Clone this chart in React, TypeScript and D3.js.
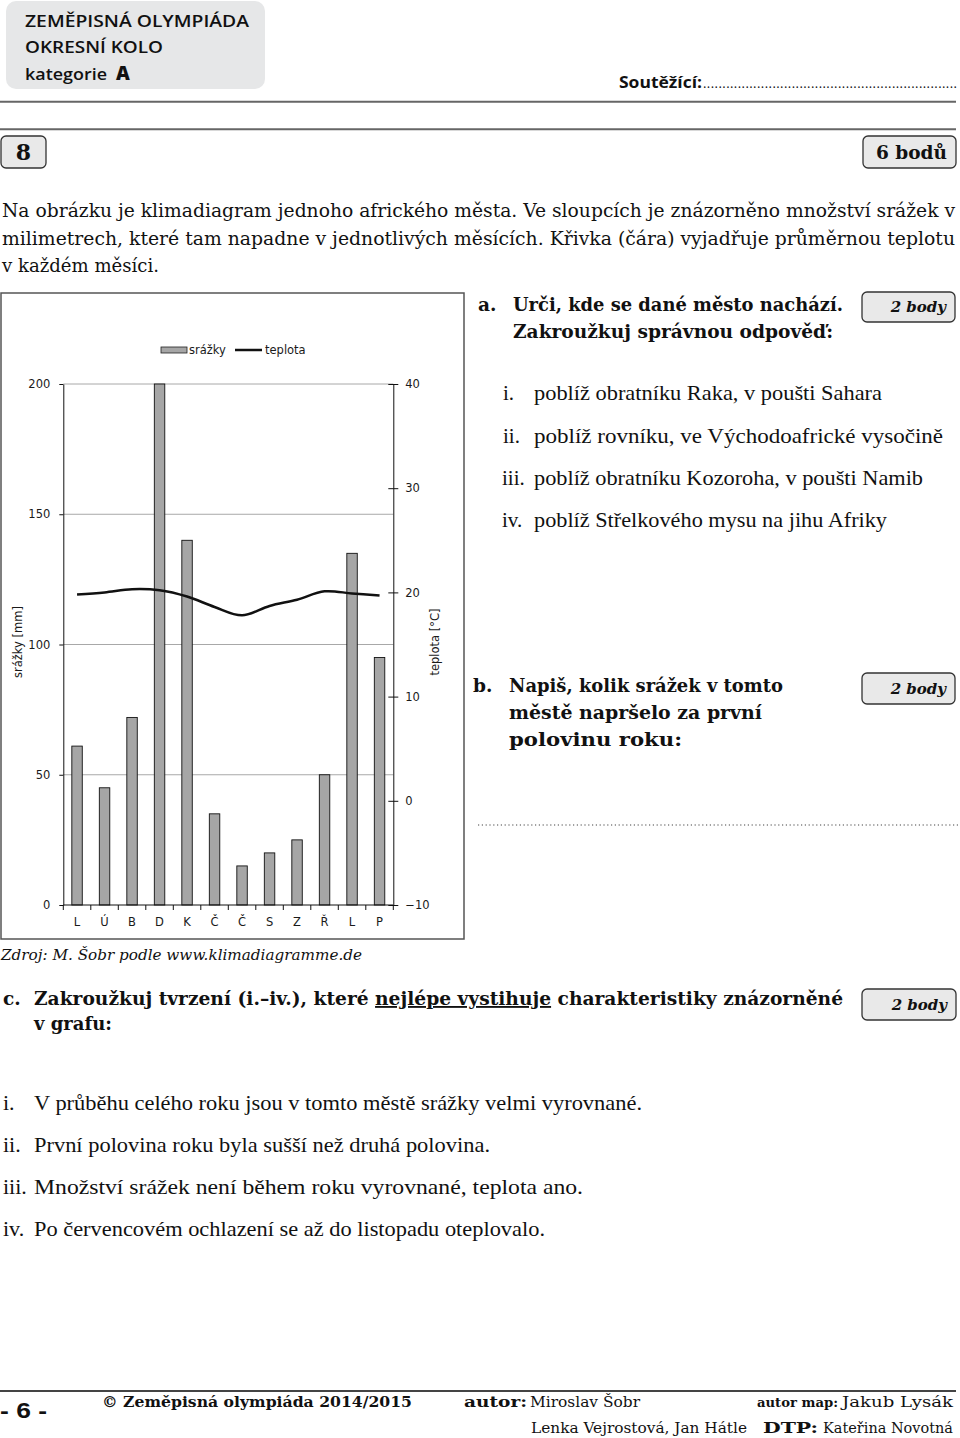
import { useEffect, useRef } from 'react'
import * as d3 from 'd3'

// klimadiagram – hodnoty
const months = ['L', 'Ú', 'B', 'D', 'K', 'Č', 'Č', 'S', 'Z', 'Ř', 'L', 'P']
const srazky = [61, 45, 72, 200, 140, 35, 15, 20, 25, 50, 135, 95]
const teplota = [19.8, 20.0, 20.3, 20.2, 19.6, 18.6, 17.8, 18.7, 19.3, 20.1, 19.9, 19.7]
const srazkyTicks = [0, 50, 100, 150, 200]
const teplotaTicks = [-10, 0, 10, 20, 30, 40]

const PLOT = { left: 63.3, right: 393.3, top: 384, bottom: 905 }
const TIMES = "'Liberation Serif', 'Times New Roman', serif"
const CAMBRIA = "'DejaVu Serif', Georgia, serif"
const SANS = "'DejaVu Sans', Verdana, sans-serif"
const HEAD = "'Open Sans', Lato, sans-serif"
const BAR_FILL = '#a6a6a6'
const FIT = 'spacingAndGlyphs'

function Klimadiagram() {
  const ref = useRef<SVGGElement>(null)

  useEffect(() => {
    const root = ref.current
    if (!root) return
    const g = d3.select(root)
    g.selectAll('*').remove()

    const x = d3.scaleBand<number>()
      .domain(d3.range(months.length))
      .range([PLOT.left, PLOT.right])
      .padding(0)
    const yP = d3.scaleLinear().domain([0, 200]).range([PLOT.bottom, PLOT.top])
    const yT = d3.scaleLinear().domain([-10, 40]).range([PLOT.bottom, PLOT.top])
    const bw = x.bandwidth() * 0.38
    const cx = (i: number) => (x(i) ?? 0) + x.bandwidth() / 2

    // rámeček
    g.append('rect')
      .attr('x', 1).attr('y', 293).attr('width', 463).attr('height', 646)
      .attr('fill', 'none').attr('stroke', '#555').attr('stroke-width', 1.5)

    // mřížka
    g.append('g').selectAll('line')
      .data(srazkyTicks.filter(d => d > 0))
      .join('line')
      .attr('x1', PLOT.left).attr('x2', PLOT.right)
      .attr('y1', d => yP(d)).attr('y2', d => yP(d))
      .attr('stroke', '#a8a8a8').attr('stroke-width', 1)

    // sloupce srážek
    g.append('g').selectAll('rect')
      .data(srazky)
      .join('rect')
      .attr('x', (_, i) => cx(i) - bw / 2)
      .attr('y', d => yP(d))
      .attr('width', bw)
      .attr('height', d => yP(0) - yP(d))
      .attr('fill', BAR_FILL).attr('stroke', '#111').attr('stroke-width', 0.9)

    const styleAxis = (sel: d3.Selection<SVGGElement, unknown, null, undefined>) => {
      sel.select('.domain').attr('stroke', '#111')
      sel.selectAll('line').attr('stroke', '#111')
      sel.selectAll('text').attr('fill', '#1a1a1a').style('font-family', SANS).style('font-size', '11.5px')
    }

    // levá osa
    g.append('g')
      .attr('transform', `translate(${PLOT.left},0)`)
      .call(d3.axisLeft(yP).tickValues(srazkyTicks).tickSize(4).tickSizeOuter(0).tickPadding(9))
      .call(styleAxis)

    // pravá osa
    const right = g.append('g')
      .attr('transform', `translate(${PLOT.right},0)`)
      .call(d3.axisRight(yT).tickValues(teplotaTicks).tickSize(5).tickSizeOuter(0).tickPadding(7))
      .call(styleAxis)
    right.selectAll('.tick line').attr('x1', -5)

    // spodní osa
    const bottom = g.append('g')
    bottom.append('line')
      .attr('x1', PLOT.left).attr('x2', PLOT.right)
      .attr('y1', yP(0)).attr('y2', yP(0))
      .attr('stroke', '#111')
    bottom.selectAll('line.tk')
      .data(d3.range(months.length + 1))
      .join('line')
      .attr('class', 'tk')
      .attr('x1', i => PLOT.left + i * x.step()).attr('x2', i => PLOT.left + i * x.step())
      .attr('y1', yP(0)).attr('y2', yP(0) + 5)
      .attr('stroke', '#111')
    bottom.selectAll('text')
      .data(months)
      .join('text')
      .attr('x', (_, i) => cx(i))
      .attr('y', yP(0) + 21)
      .attr('text-anchor', 'middle')
      .attr('fill', '#1a1a1a')
      .style('font-family', SANS).style('font-size', '11.5px')
      .text(d => d)

    // teplota
    const line = d3.line<number>()
      .x((_, i) => cx(i))
      .y(d => yT(d))
      .curve(d3.curveCatmullRom)
    g.append('path')
      .datum(teplota)
      .attr('fill', 'none')
      .attr('stroke', '#111')
      .attr('stroke-width', 2.5)
      .attr('d', line)

    // popisky os
    g.append('text')
      .attr('transform', `translate(22,642) rotate(-90)`)
      .attr('text-anchor', 'middle')
      .style('font-family', SANS).style('font-size', '11.5px').attr('fill', '#1a1a1a')
      .text('srážky [mm]')
    g.append('text')
      .attr('transform', `translate(439,642) rotate(-90)`)
      .attr('text-anchor', 'middle')
      .style('font-family', SANS).style('font-size', '11.5px').attr('fill', '#1a1a1a')
      .text('teplota [°C]')

    // legenda
    const leg = g.append('g')
    leg.append('rect')
      .attr('x', 161).attr('y', 347).attr('width', 26).attr('height', 6)
      .attr('fill', BAR_FILL).attr('stroke', '#222').attr('stroke-width', 0.8)
    leg.append('text')
      .attr('x', 189).attr('y', 354)
      .style('font-family', SANS).style('font-size', '11.5px').attr('fill', '#1a1a1a')
      .text('srážky')
    leg.append('line')
      .attr('x1', 235).attr('x2', 262).attr('y1', 350).attr('y2', 350)
      .attr('stroke', '#111').attr('stroke-width', 2.5)
    leg.append('text')
      .attr('x', 265).attr('y', 354)
      .style('font-family', SANS).style('font-size', '11.5px').attr('fill', '#1a1a1a')
      .text('teplota')
  }, [])

  return <g ref={ref} />
}

function BodyBox({ x, y, w, h, label, size = 15, italic = true }: { x: number; y: number; w: number; h: number; label: string; size?: number; italic?: boolean }) {
  return (
    <g>
      <rect x={x} y={y} width={w} height={h} rx={5} fill="#e9e9e9" stroke="#333" strokeWidth={1.3} />
      <text x={x + w - 9} y={y + h / 2 + size * 0.36} textAnchor="end" fontFamily={CAMBRIA} fontWeight="bold"
        fontStyle={italic ? 'italic' : 'normal'} fontSize={size} fill="#111">{label}</text>
    </g>
  )
}

export default function App() {
  const t = { fontFamily: TIMES, fill: '#111', lengthAdjust: FIT }
  const c = { fontFamily: CAMBRIA, fill: '#111', lengthAdjust: FIT }
  const hb = { ...c, fontSize: 18.5, fontWeight: 'bold' as const }
  const ft = { ...c, fontSize: 15 }
  return (
    <svg width={960} height={1438} style={{ position: 'absolute', left: 0, top: 0, background: '#fff' }}>
      {/* hlavička */}
      <rect x={6} y={1} width={259} height={88} rx={10} fill="#e6e7e8" />
      <text x={25} y={27} fontFamily={HEAD} fontWeight="600" fontSize={17} textLength={224} lengthAdjust={FIT} fill="#111">ZEMĚPISNÁ OLYMPIÁDA</text>
      <text x={25} y={53} fontFamily={HEAD} fontWeight="600" fontSize={17} textLength={138} lengthAdjust={FIT} fill="#111">OKRESNÍ KOLO</text>
      <text x={25} y={80} fontFamily={HEAD} fontWeight="600" fontSize={17} textLength={82} lengthAdjust={FIT} fill="#111">kategorie</text>
      <text x={116} y={80} fontFamily={HEAD} fontSize={19} fontWeight="800" fill="#111">A</text>
      <text x={619} y={88} fontFamily={HEAD} fontSize={16} fontWeight="bold" textLength={83} lengthAdjust={FIT} fill="#111">Soutěžící:</text>
      <text x={703} y={88} fontFamily={HEAD} fontSize={13} textLength={254} fill="#111">{'.'.repeat(66)}</text>

      <line x1={0} x2={956} y1={101.7} y2={101.7} stroke="#666" strokeWidth={2} />
      <line x1={0} x2={956} y1={129.3} y2={129.3} stroke="#666" strokeWidth={2} />

      <rect x={1} y={136} width={45} height={32} rx={5} fill="#e9e9e9" stroke="#333" strokeWidth={1.3} />
      <text x={23.5} y={160} textAnchor="middle" {...c} fontWeight="bold" fontSize={22}>8</text>
      <BodyBox x={863} y={136} w={93} h={32} label="6 bodů" size={18.5} italic={false} />

      {/* úvodní text */}
      <text x={2} y={216.5} {...c} fontSize={18} textLength={953}>Na obrázku je klimadiagram jednoho afrického města. Ve sloupcích je znázorněno množství srážek v</text>
      <text x={2} y={245} {...c} fontSize={18} textLength={953}>milimetrech, které tam napadne v jednotlivých měsících. Křivka (čára) vyjadřuje průměrnou teplotu</text>
      <text x={2} y={272} {...c} fontSize={18} textLength={157}>v každém měsíci.</text>

      <Klimadiagram />

      {/* a */}
      <text x={478} y={311} {...hb}>a.</text>
      <text x={513} y={311} {...hb} textLength={330}>Urči, kde se dané město nachází.</text>
      <text x={513} y={338} {...hb} textLength={320}>Zakroužkuj správnou odpověď:</text>
      <BodyBox x={862} y={292} w={93} h={30} label="2 body" />

      <text x={503} y={400} {...t} fontSize={21}>i.</text>
      <text x={534} y={400} {...t} fontSize={21} textLength={348}>poblíž obratníku Raka, v poušti Sahara</text>
      <text x={503} y={443} {...t} fontSize={21}>ii.</text>
      <text x={534} y={443} {...t} fontSize={21} textLength={409}>poblíž rovníku, ve Východoafrické vysočině</text>
      <text x={502} y={485} {...t} fontSize={21}>iii.</text>
      <text x={534} y={485} {...t} fontSize={21} textLength={389}>poblíž obratníku Kozoroha, v poušti Namib</text>
      <text x={502} y={527} {...t} fontSize={21}>iv.</text>
      <text x={534} y={527} {...t} fontSize={21} textLength={353}>poblíž Střelkového mysu na jihu Afriky</text>

      {/* b */}
      <text x={473} y={692} {...hb}>b.</text>
      <text x={509} y={692} {...hb} textLength={274}>Napiš, kolik srážek v tomto</text>
      <text x={509} y={719} {...hb} textLength={253}>městě napršelo za první</text>
      <text x={509} y={746} {...hb} textLength={173}>polovinu roku:</text>
      <BodyBox x={862} y={673} w={93} h={31} label="2 body" />
      <line x1={478} x2={958} y1={825} y2={825} stroke="#444" strokeWidth={1.2} strokeDasharray="1.2 2.6" />

      {/* zdroj */}
      <text x={1} y={960} {...c} fontSize={15.5} fontStyle="italic" textLength={361}>Zdroj: M. Šobr podle www.klimadiagramme.de</text>

      {/* c */}
      <text x={3} y={1005} {...hb}>c.</text>
      <text x={34} y={1005} {...hb} textLength={809}>
        Zakroužkuj tvrzení (i.–iv.), které <tspan style={{ textDecoration: 'underline' }}>nejlépe vystihuje</tspan> charakteristiky znázorněné
      </text>
      <text x={34} y={1030} {...hb} textLength={78}>v grafu:</text>
      <BodyBox x={862} y={989} w={94} h={31} label="2 body" />

      <text x={3} y={1110} {...t} fontSize={22}>i.</text>
      <text x={34} y={1110} {...t} fontSize={22} textLength={608}>V průběhu celého roku jsou v tomto městě srážky velmi vyrovnané.</text>
      <text x={3} y={1152} {...t} fontSize={22}>ii.</text>
      <text x={34} y={1152} {...t} fontSize={22} textLength={456}>První polovina roku byla sušší než druhá polovina.</text>
      <text x={3} y={1194} {...t} fontSize={22}>iii.</text>
      <text x={34} y={1194} {...t} fontSize={22} textLength={549}>Množství srážek není během roku vyrovnané, teplota ano.</text>
      <text x={3} y={1236} {...t} fontSize={22}>iv.</text>
      <text x={34} y={1236} {...t} fontSize={22} textLength={511}>Po červencovém ochlazení se až do listopadu oteplovalo.</text>

      {/* patička */}
      <line x1={0} x2={956} y1={1391} y2={1391} stroke="#444" strokeWidth={1.8} />
      <text x={0} y={1418} fontFamily="'Liberation Sans', Arial, sans-serif" fontWeight="bold" fontSize={22} textLength={47} lengthAdjust={FIT} fill="#111">- 6 -</text>
      <text x={102} y={1407} {...ft} fontWeight="bold" textLength={310}>© Zeměpisná olympiáda 2014/2015</text>
      <text x={464} y={1407} {...ft} fontWeight="bold" textLength={63}>autor:</text>
      <text x={530} y={1407} {...ft} textLength={110}>Miroslav Šobr</text>
      <text x={531} y={1433} {...ft} textLength={216}>Lenka Vejrostová, Jan Hátle</text>
      <text x={757} y={1407} {...ft} fontSize={13.5} fontWeight="bold" textLength={81}>autor map:</text>
      <text x={842} y={1407} {...ft} textLength={111}>Jakub Lysák</text>
      <text x={763} y={1433} {...ft} fontWeight="bold" textLength={55}>DTP:</text>
      <text x={823} y={1433} {...ft} fontSize={14} textLength={130}>Kateřina Novotná</text>
    </svg>
  )
}
